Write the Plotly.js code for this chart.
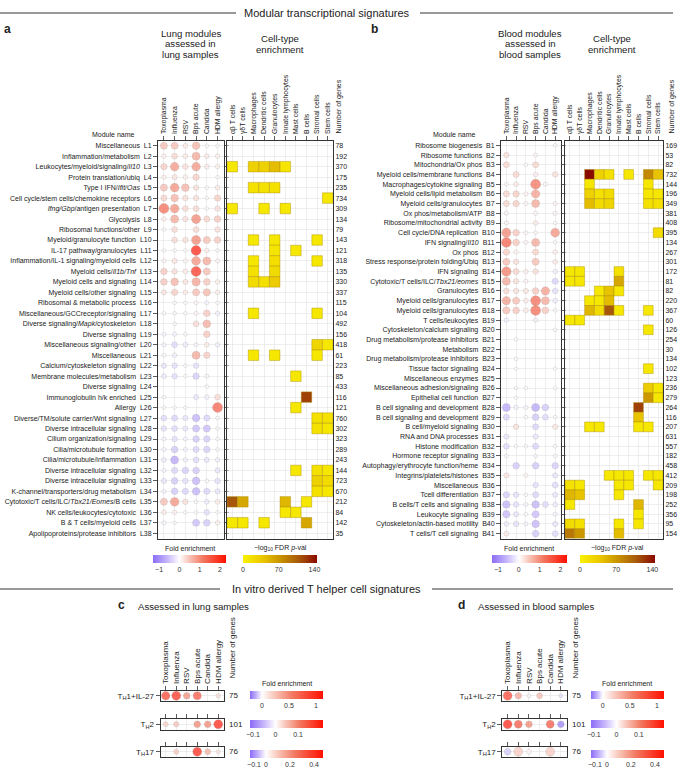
<!DOCTYPE html>
<html><head><meta charset="utf-8">
<script src="https://cdn.plot.ly/plotly-3.0.1.min.js"></script>
<style>html,body{margin:0;padding:0;background:#fff}#chart{width:678px;height:767px}</style>
</head><body><div id="chart"></div>
<script>
const N = null;
const studies = ['Toxoplasma','Influenza','RSV','Bps acute','Candida','HDM allergy'];
const cellTypes = ['αβ T cells','γδT cells','Macrophages','Dendritic cells','Granulocytes','Innate lymphocytes','Mast cells','B cells','Stromal cells','Stem cells'];

const lungNames = ['Miscellaneous','Inflammation/metabolism','Leukocytes/myeloid/signaling/<i>Il10</i>','Protein translation/ubiq','Type I IFN/<i>Ifit/Oas</i>','Cell cycle/stem cells/chemokine receptors','<i>Ifng/Gbp</i>/antigen presentation','Glycolysis','Ribosomal functions/other','Myeloid/granulocyte function','IL-17 pathway/granulocytes','Inflammation/IL-1 signaling/myeloid cells','Myeloid cells/<i>Il1b/Tnf</i>','Myeloid cells and signaling','Myeloid cells/other signaling','Ribosomal &amp; metabolic process','Miscellaneous/GCCreceptor/signaling','Diverse signaling/<i>Mapk</i>/cytoskeleton','Diverse signaling','Miscellaneous signaling/other','Miscellaneous','Calcium/cytoskeleton signaling','Membrane molecules/metabolism','Diverse signaling','Immunoglobulin h/k enriched','Allergy','Diverse/TM/solute carrier/Wnt signaling','Diverse intracellular signaling','Cilium organization/signaling','Cilia/microtubule formation','Cilia/microtubule/inflammation','Diverse intracellular signaling','Diverse intracellular signaling','K-channel/transporters/drug metabolism','Cytotoxic/T cells/ILC/<i>Tbx21/Eomes</i>/B cells','NK cells/leukocytes/cytotoxic','B &amp; T cells/myeloid cells','Apolipoproteins/protease inhibitors'];
const lungGenes = [78,192,370,175,235,734,309,134,79,143,121,318,135,330,337,115,104,492,156,418,61,223,85,433,116,121,760,302,323,289,243,144,723,670,212,84,142,35];
// fold enrichment: Toxoplasma, Influenza, RSV, Bps acute, Candida, HDM allergy
const lungFold = [
[0.6,0.6,0.2,0.7,0.05,0.05],[0.15,0.35,0.2,0.8,0.2,0.15],[0.45,0.95,0.3,0.95,0.2,0.15],[0.15,0.25,0.15,0.45,N,0.05],
[0.6,1.0,0.7,0.3,-0.05,0.2],[0.4,0.7,0.3,0.3,0.03,0.45],[1.4,1.0,0.35,0.35,0.05,0.3],[0.15,0.8,0.3,1.1,0.4,0.5],
[0.05,0.35,N,0.35,N,0.3],[N,0.35,0.3,1.1,0.6,0.5],[0.05,0.05,0.03,2.2,0.15,-0.05],[0.1,0.25,0.1,1.0,0.8,0.1],
[0.5,0.3,0.2,2.0,0.6,N],[0.5,0.7,0.25,0.85,0.5,0.15],[0.25,0.45,0.2,0.6,0.65,0.15],[N,0.05,0.05,0.1,-0.1,0.05],
[0.05,-0.05,0.05,0.1,0.5,-0.15],[N,0.05,N,0.35,0.75,N],[-0.1,-0.1,-0.05,N,0.5,N],[-0.1,-0.35,-0.2,-0.1,0.2,-0.15],
[-0.05,-0.15,N,0.8,0.45,N],[-0.25,-0.3,-0.05,-0.3,N,N],[-0.2,-0.3,-0.05,-0.45,-0.1,N],[N,N,N,N,0.05,N],
[-0.05,N,N,-0.25,-0.15,0.35],[0.05,0.03,0.03,N,N,1.5],[-0.35,-0.4,-0.25,-0.7,-0.4,-0.05],[-0.3,-0.35,-0.25,-0.6,-0.6,-0.05],
[-0.1,-0.3,-0.1,-0.5,-0.45,-0.05],[-0.1,-0.5,-0.1,-0.4,-0.45,-0.05],[-0.2,-0.8,-0.15,-0.35,-0.25,-0.15],[-0.1,-0.4,-0.45,-0.5,N,-0.25],
[-0.25,-0.5,-0.3,-0.7,-0.05,-0.3],[-0.1,-0.5,-0.4,-0.7,-0.4,-0.25],[0.6,1.0,0.3,-0.05,-0.2,0.2],[0.2,0.15,0.05,0.05,-0.3,0.05],
[-0.1,0.03,N,-0.6,-0.5,0.15],[N,N,N,N,N,N]];
// -log10 FDR p-value per cell type
const lungFdr = [
[N,N,N,N,N,N,N,N,N,N],[N,N,N,N,N,N,N,N,N,N],[10,N,30,30,45,12,N,N,N,N],[N,N,N,N,N,N,N,N,N,N],
[N,N,15,15,15,N,N,N,N,N],[N,N,N,N,N,N,N,N,N,10],[10,N,N,10,N,10,N,N,N,N],[N,N,N,N,N,N,N,N,N,N],
[N,N,N,N,N,N,N,N,N,N],[N,N,10,N,10,N,N,N,10,N],[N,N,N,N,12,N,10,N,N,N],[N,N,10,N,18,N,N,N,10,N],
[N,N,15,N,22,N,N,N,N,N],[N,N,20,15,35,N,N,N,N,N],[N,N,N,N,N,N,N,N,N,N],[N,N,N,N,N,N,N,N,N,N],
[N,N,10,N,N,N,N,N,10,N],[N,N,N,N,N,N,N,N,N,N],[N,N,N,N,N,N,N,N,N,N],[N,N,N,N,N,N,N,N,25,10],
[N,N,10,N,10,N,N,N,10,N],[N,N,N,N,N,N,N,N,N,N],[N,N,N,N,N,N,10,N,N,N],[N,N,N,N,N,N,N,N,N,N],
[N,N,N,N,N,N,N,120,N,N],[N,N,N,N,N,N,10,N,N,N],[N,N,N,N,N,N,N,N,15,15],[N,N,N,N,N,N,N,N,15,10],
[N,N,N,N,N,N,N,N,N,N],[N,N,N,N,N,N,N,N,N,N],[N,N,N,N,N,N,N,N,N,N],[N,N,N,N,N,N,10,N,15,10],
[N,N,N,N,N,N,N,N,30,20],[N,N,N,N,N,N,N,N,15,10],[110,60,N,N,N,50,N,10,N,N],[N,N,N,N,N,10,10,N,N,N],
[10,10,N,10,N,N,N,60,N,N],[N,N,N,N,N,N,N,N,N,N]];

const bloodNames = ['Ribosome biogenesis','Ribosome functions','Mitochondria/Ox phos','Myeloid cells/membrane functions','Macrophages/cytokine signaling','Myeloid cells/lipid metabolism','Myeloid cells/granulocytes','Ox phos/metabolism/ATP','Ribosome/mitochondrial activity','Cell cycle/DNA replication','IFN signaling/<i>Il10</i>','Ox phos','Stress response/protein folding/Ubiq','IFN signaling','Cytotoxic/T cells/ILC/<i>Tbx21/eomes</i>','Granulocytes','Myeloid cells/granulocytes','Myeloid cells/granulocytes','T cells/leukocytes','Cytoskeleton/calcium signaling','Drug metabolism/protease inhibitors','Metabolism','Drug metabolism/protease inhibitors','Tissue factor signaling','Miscellaneous enzymes','Miscellaneous adhesion/signaling','Epithelial cell function','B cell signaling and development','B cell signaling and development','B cell/myeloid signaling','RNA and DNA processes','Histone modification','Hormone receptor signaling','Autophagy/erythrocyte function/heme','Integrins/platelets/histones','Miscellaneous','Tcell differentiation','B cells/T cells and signaling','Leukocyte signaling','Cytoskeleton/actin-based motility','T cells/T cell signaling'];
const bloodGenes = [169,53,82,732,144,196,349,381,408,395,134,267,301,172,81,82,220,367,60,126,254,30,134,102,123,236,279,264,116,207,631,557,182,458,412,209,198,252,356,95,154];
const bloodFold = [
[N,N,N,N,N,0.05],[0.3,N,N,0.1,N,N],[0.4,N,0.05,0.4,N,N],[N,0.4,N,0.15,N,0.3],[0.05,0.2,N,1.3,0.1,N],
[0.4,0.45,0.1,0.9,N,N],[0.4,0.45,0.1,0.8,N,0.1],[0.1,N,N,0.1,N,0.1],[0.1,N,N,0.2,N,0.05],[1.1,0.5,0.1,0.05,N,1.0],
[1.5,0.5,0.1,0.8,N,0.05],[0.45,0.1,N,0.4,N,0.15],[0.6,0.3,N,0.6,N,0.2],[1.2,0.4,0.15,0.3,N,-0.15],[0.8,0.3,0.1,N,N,-0.4],
[0.35,0.3,0.25,0.5,0.9,-0.3],[0.9,0.6,0.2,1.4,0.8,-0.2],[0.6,0.5,0.2,1.4,0.5,0.05],[-0.15,N,N,-0.15,N,N],[N,N,N,N,N,0.05],
[N,0.05,N,N,N,N],[N,N,N,N,N,N],[N,0.05,N,N,N,N],[N,0.03,N,N,N,0.03],[N,N,N,N,N,N],
[N,0.05,0.05,N,N,0.03],[N,0.03,N,N,N,N],[-0.8,-0.15,-0.1,-0.8,-0.5,N],[-0.4,N,-0.05,-0.5,-0.35,0.05],[N,0.3,N,-0.4,N,0.25],
[-0.25,N,N,-0.25,N,N],[-0.35,-0.05,-0.05,-0.4,N,-0.05],[-0.05,N,N,-0.05,N,-0.05],[N,-0.5,N,-0.5,N,-0.45],[0.25,N,0.1,N,N,-0.25],
[N,N,N,-0.3,N,-0.35],[-0.45,-0.3,-0.05,-0.4,N,-0.25],[-0.7,-0.3,-0.1,-0.7,-0.35,-0.2],[-0.65,-0.25,-0.05,-0.6,N,-0.1],[-0.2,-0.3,-0.1,-0.7,N,-0.25],
[0.2,N,N,-0.5,N,-0.35]];
const bloodFdr = [
[N,N,N,N,N,N,N,N,N,N],[N,N,N,N,N,N,N,N,N,N],[N,N,N,N,N,N,N,N,N,N],[N,N,145,30,15,N,10,N,80,40],[N,N,10,N,N,N,N,N,10,N],
[N,N,30,15,20,N,N,N,10,10],[N,N,45,20,25,N,N,N,15,15],[N,N,N,N,N,N,N,N,N,N],[N,N,N,N,N,N,N,N,N,N],[N,N,N,N,N,N,N,N,N,20],
[N,N,N,N,N,N,N,N,N,N],[N,N,N,N,N,N,N,N,N,N],[N,N,N,N,N,N,N,N,N,N],[10,10,N,N,N,15,N,N,N,N],[10,10,N,N,N,60,N,N,N,N],
[N,N,N,10,40,10,N,N,N,N],[N,N,10,10,45,N,N,N,N,N],[N,N,50,20,110,10,N,N,10,N],[10,10,N,N,N,N,N,N,N,N],[N,N,N,N,N,N,N,N,10,N],
[N,N,N,N,N,N,N,N,N,N],[N,N,N,N,N,N,N,N,N,N],[N,N,N,N,N,N,N,N,N,N],[N,N,N,N,N,N,N,N,10,N],[N,N,N,N,N,N,N,N,N,N],
[N,N,N,N,N,N,N,N,35,10],[N,N,N,N,N,N,N,N,70,10],[N,N,N,N,N,N,N,120,N,N],[N,N,N,N,N,N,N,40,N,N],[N,N,10,10,N,N,N,10,10,N],
[N,N,N,N,N,N,N,N,N,N],[N,N,N,N,N,N,N,N,N,N],[N,N,N,N,N,N,N,N,N,N],[N,N,N,N,N,N,N,N,N,N],[N,N,N,N,10,10,10,N,10,10],
[15,10,N,N,N,10,10,N,N,10],[50,40,N,N,N,10,N,N,N,N],[10,N,N,N,N,N,N,50,N,N],[N,N,N,N,N,N,N,10,N,N],[20,15,N,N,N,10,N,10,N,N],
[90,70,N,N,N,45,N,N,N,N]];

const thNames = ['T<sub>H</sub>1+IL-27','T<sub>H</sub>2','T<sub>H</sub>17'];
const thGenes = [75,101,76];
const thLungFold = [[0.9,1.0,0.5,0.8,N,0.15],[0.04,0.05,N,0.1,0.1,0.2],[N,0.1,N,0.45,0.15,0.05]];
const thBloodFold = [[0.9,0.4,0.05,0.3,N,-0.05],[0.2,0.15,0.1,N,0.15,-0.1],[-0.05,0.1,0.02,N,0.1,N]];
const thRanges = [[-0.22,1.13],[-0.113,0.211],[-0.133,0.475]];
const thTicks = [[0,0.5,1],[-0.1,0,0.1],[-0.1,0,0.2,0.4]];

// ---------- drawing ----------
const W=678,H=767, FONT='Liberation Sans, Arial, sans-serif';
const px=x=>x/W, py=y=>1-y/H;
const fdrScale=[[0,'#f9f200'],[0.25,'#ecca00'],[0.5,'#c99400'],[0.75,'#a85a0a'],[1,'#8b0a00']];
function foldScale(zf){
  return [[0,'#8c6cf6'],[zf*0.55,'#c7b8fb'],[zf,'#ffffff'],[zf+(1-zf)*0.2,'#f8c8bc'],[zf+(1-zf)*0.5,'#f27a62'],[1,'#ff1000']];
}
function bubbleTrace(matrix,xa,ya,cmin,cmax,sizeRef,sizeMax,cb){
  const xs=[],ys=[],vs=[];
  matrix.forEach((row,i)=>row.forEach((v,j)=>{if(v!==null){xs.push(j);ys.push(i);vs.push(v);}}));
  const zf=-cmin/(cmax-cmin);
  return {type:'scatter',mode:'markers',x:xs,y:ys,xaxis:xa,yaxis:ya,hoverinfo:'skip',showlegend:false,
    marker:{color:vs,cmin:cmin,cmax:cmax,colorscale:foldScale(zf),
      size:vs.map(v=>3+sizeMax*Math.pow(Math.min(1,Math.abs(v)/sizeRef),0.7)),
      line:{color:'rgba(110,110,110,0.4)',width:0.6},showscale:!!cb,colorbar:cb||{}}};
}
function heatTrace(matrix,xa,ya,size,cb){
  const xs=[],ys=[],vs=[];
  matrix.forEach((row,i)=>row.forEach((v,j)=>{if(v!==null){xs.push(j);ys.push(i);vs.push(v);}}));
  return {type:'scatter',mode:'markers',x:xs,y:ys,xaxis:xa,yaxis:ya,hoverinfo:'skip',showlegend:false,
    marker:{symbol:'square',size:size,color:vs,cmin:0,cmax:145,colorscale:fdrScale,
      line:{color:'rgba(170,140,0,0.6)',width:0.7},showscale:true,colorbar:cb}};
}
function cbar(xc,ytop,len,ticks){
  return {orientation:'h',x:px(xc),xanchor:'center',y:py(ytop),yanchor:'top',len:len,lenmode:'pixels',
    thickness:8,thicknessmode:'pixels',outlinewidth:0,xpad:0,ypad:0,ticks:'',tickvals:ticks,
    tickfont:{size:7,color:'#333',family:FONT}};
}
const gridc='#e3e3e3', linec='#333';
function xAxis(dom,anchor,n,labels,show,fs,range){
  return {domain:[px(dom[0]),px(dom[1])],anchor:anchor,range:range,side:'top',tickmode:'array',
    tickvals:[...Array(n).keys()],ticktext:labels,showticklabels:show,tickangle:-90,
    ticks:'outside',ticklen:4,tickwidth:0.8,tickcolor:linec,showline:true,linecolor:linec,linewidth:1,mirror:true,
    showgrid:true,gridcolor:gridc,gridwidth:0.6,zeroline:false,fixedrange:true,
    tickfont:{size:fs,color:'#222',family:FONT}};
}
function yAxis(dom,anchor,n,labels,opts){
  return Object.assign({domain:[py(dom[1]),py(dom[0])],anchor:anchor,range:[n-0.5,-0.5],tickmode:'array',
    tickvals:[...Array(n).keys()],ticktext:labels,ticks:'outside',ticklen:4,tickwidth:0.8,tickcolor:linec,
    showline:true,linecolor:linec,linewidth:1,mirror:'ticks',showgrid:true,gridcolor:gridc,gridwidth:0.6,
    zeroline:false,fixedrange:true,tickfont:{size:7,color:'#222',family:FONT}},opts||{});
}

const lungLabels=lungNames.map((s,i)=>s+'\u00a0\u00a0L'+(i+1));
const bloodLabels=bloodNames.map((s,i)=>s+'\u00a0\u00a0B'+(i+1));
const frameY=[140.5,538.5];
const layout={width:W,height:H,margin:{l:0,r:0,t:0,b:0},paper_bgcolor:'#fff',plot_bgcolor:'rgba(0,0,0,0)',
  font:{family:FONT,color:'#222'},showlegend:false};

// panel a
layout.xaxis=xAxis([158,224],'y',6,studies,true,6.9,[-0.55,5.6]);
layout.yaxis=yAxis(frameY,'x',38,lungLabels);
layout.xaxis2=xAxis([227,333],'y2',10,cellTypes,true,6.9,[-0.5,9.5]);
layout.yaxis2=yAxis(frameY,'x2',38,lungGenes.map(String),{side:'right',ticks:'',mirror:true});
// panel b
layout.xaxis3=xAxis([501,561],'y3',6,studies,true,6.9,[-0.55,5.6]);
layout.yaxis3=yAxis(frameY,'x3',41,bloodLabels);
layout.xaxis4=xAxis([565,663],'y4',10,cellTypes,true,6.9,[-0.5,9.5]);
layout.yaxis4=yAxis(frameY,'x4',41,bloodGenes.map(String),{side:'right',ticks:'',mirror:true});
// panels c, d
const thRowsY=[[690.5,701],[719,729.5],[746.5,757]];
for(let r=0;r<3;r++){
  const ic=5+r, id=8+r;
  layout['xaxis'+ic]=xAxis([160.5,224],'y'+ic,6,studies,r===0,8,[-0.5,5.55]);
  layout['yaxis'+ic]=yAxis(thRowsY[r],'x'+ic,1,[thNames[r]],{mirror:true,tickfont:{size:8,color:'#222',family:FONT}});
  layout['xaxis'+id]=xAxis([502.3,566.7],'y'+id,6,studies,r===0,8,[-0.5,5.55]);
  layout['yaxis'+id]=yAxis(thRowsY[r],'x'+id,1,[thNames[r]],{mirror:true,tickfont:{size:8,color:'#222',family:FONT}});
}

const traces=[
  bubbleTrace(lungFold,'x','y',-1.3,2.3,1.3,7,cbar(189.5,555,73,[-1,0,1,2])),
  heatTrace(lungFdr,'x2','y2',10.5,cbar(280,555,74,[0,70,140])),
  bubbleTrace(bloodFold,'x3','y3',-1.3,2.3,1.3,7,cbar(529.2,555,75,[-1,0,1,2])),
  heatTrace(bloodFdr,'x4','y4',9.75,cbar(617.5,555,75,[0,70,140]))
];
const cbTops=[691,720,750];
for(let r=0;r<3;r++){
  const rl=thRanges[r];
  const mL=Math.max(...thLungFold[r].filter(v=>v!==null).map(Math.abs));
  const mB=Math.max(...thBloodFold[r].filter(v=>v!==null).map(Math.abs));
  traces.push(bubbleTrace([thLungFold[r]],'x'+(5+r),'y'+(5+r),rl[0],rl[1],mL,6,cbar(286.5,cbTops[r],73,thTicks[r])));
  traces.push(bubbleTrace([thBloodFold[r]],'x'+(8+r),'y'+(8+r),rl[0],rl[1],mB,6,cbar(627.4,cbTops[r],73,thTicks[r])));
}

function ann(text,x,y,size,o){
  return Object.assign({text:text,x:px(x),y:py(y),xref:'paper',yref:'paper',showarrow:false,
    font:{size:size,color:'#222',family:FONT},xanchor:'center',yanchor:'middle'},o||{});
}
const A=[];
A.push(ann('Modular transcriptional signatures',326.5,13,11));
A.push(ann('In vitro derived T helper cell signatures',326.5,589,11));
A.push(ann('<b>a</b>',2,29,12,{xanchor:'left'}));
A.push(ann('<b>b</b>',369,29,12,{xanchor:'left'}));
A.push(ann('<b>c</b>',116,605,12,{xanchor:'left'}));
A.push(ann('<b>d</b>',456,605,12,{xanchor:'left'}));
['Lung modules','assessed in','lung samples'].forEach((t,i)=>A.push(ann(t,190.5,33+i*10.8,9.6)));
['Cell-type','enrichment'].forEach((t,i)=>A.push(ann(t,280,38.5+i*11.5,9.6)));
['Blood modules','assessed in','blood samples'].forEach((t,i)=>A.push(ann(t,530,33+i*10.8,9.6)));
['Cell-type','enrichment'].forEach((t,i)=>A.push(ann(t,611.5,38.5+i*11.5,9.6)));
A.push(ann('Assessed in lung samples',136,606,9.6,{xanchor:'left'}));
A.push(ann('Assessed in blood samples',476,606,9.6,{xanchor:'left'}));
A.push(ann('Module name',137,135,7,{xanchor:'right'}));
A.push(ann('Module name',478,135,7,{xanchor:'right'}));
A.push(ann('Number of genes',338.5,136,7,{textangle:-90,yanchor:'bottom'}));
A.push(ann('Number of genes',671.5,136,7,{textangle:-90,yanchor:'bottom'}));
A.push(ann('Number of genes',232,681,8,{textangle:-90,yanchor:'bottom'}));
A.push(ann('Number of genes',575,681,8,{textangle:-90,yanchor:'bottom'}));
A.push(ann('Fold enrichment',189.5,548,7));
A.push(ann('\u2212log<sub>10</sub> FDR <i>p</i>-val',280,548,7));
A.push(ann('Fold enrichment',529.2,548,7));
A.push(ann('\u2212log<sub>10</sub> FDR <i>p</i>-val',617.5,548,7));
A.push(ann('Fold enrichment',286.5,683.5,7));
A.push(ann('Fold enrichment',627.4,683.5,7));
for(let r=0;r<3;r++){
  A.push({text:String(thGenes[r]),x:px(227),y:0,xref:'paper',yref:'y'+(5+r),showarrow:false,xanchor:'left',yanchor:'middle',font:{size:8,color:'#222',family:FONT}});
  A.push({text:String(thGenes[r]),x:px(569.5),y:0,xref:'paper',yref:'y'+(8+r),showarrow:false,xanchor:'left',yanchor:'middle',font:{size:8,color:'#222',family:FONT}});
}
layout.annotations=A;
function hline(x0,x1,y){return {type:'line',xref:'paper',yref:'paper',x0:px(x0),x1:px(x1),y0:py(y),y1:py(y),line:{color:'#333',width:1}};}
layout.shapes=[hline(0,236,13),hline(420,673,13),hline(0,220,589),hline(432,673,589)];

Plotly.newPlot('chart',traces,layout,{displayModeBar:false,staticPlot:true});
</script></body></html>
